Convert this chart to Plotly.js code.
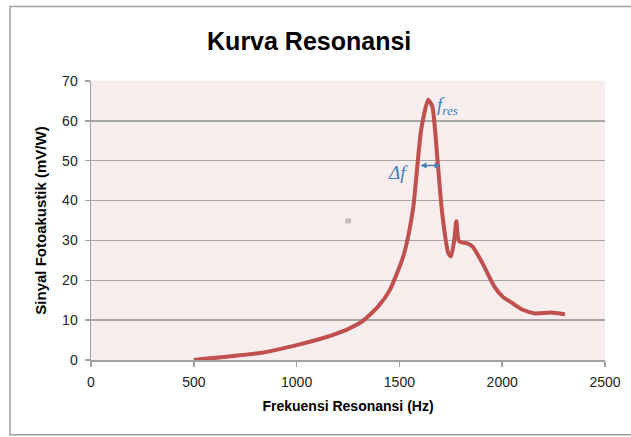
<!DOCTYPE html>
<html>
<head>
<meta charset="utf-8">
<script src="https://cdn.plot.ly/plotly-3.0.1.min.js"></script>
<style>html,body{margin:0;padding:0;background:#fff;}#chart{width:631px;height:437px;}</style>
</head>
<body>
<div id="chart"></div>
<script>
var freq = [500, 829, 1005, 1141, 1239, 1317, 1396, 1454, 1513, 1532, 1568, 1581, 1606, 1640, 1660, 1685, 1708, 1738, 1751, 1767, 1777, 1790, 1826, 1855, 1904, 1962, 2002, 2051, 2100, 2158, 2236, 2305];
var signal = [0, 1.8, 3.8, 5.7, 7.5, 9.6, 13.4, 17.6, 25.1, 28.5, 38.5, 45.2, 57.8, 65.3, 63.6, 50.3, 36.9, 26.8, 26.0, 30.2, 34.8, 29.8, 29.3, 28.5, 24.3, 18.4, 15.9, 14.2, 12.6, 11.7, 11.9, 11.5];
var xTicks = [0, 500, 1000, 1500, 2000, 2500];
var yTicks = [0, 10, 20, 30, 40, 50, 60, 70];

var font = "Liberation Sans, Arial, sans-serif";
var trace = {
  x: freq, y: signal, type: 'scatter', mode: 'lines',
  line: {color: '#C0504D', width: 4, shape: 'spline', smoothing: 0.6},
  hoverinfo: 'none'
};
var layout = {
  width: 631, height: 437,
  margin: {l: 91, r: 26, t: 81, b: 77},
  paper_bgcolor: '#ffffff',
  plot_bgcolor: '#F8EDED',
  showlegend: false,
  title: {text: '<b>Kurva Resonansi</b>', font: {family: font, size: 25, color: '#000'}, x: 0.49, xanchor: 'center', y: 0.905, yanchor: 'middle'},
  xaxis: {
    range: [0, 2500], tickvals: xTicks, ticktext: xTicks.map(String),
    showgrid: false, zeroline: false, showline: true, linecolor: '#A0A0A0', linewidth: 1.5,
    ticks: 'outside', ticklen: 5, tickcolor: '#A0A0A0', tickwidth: 1.5, ticklabelstandoff: 4,
    tickfont: {family: font, size: 14, color: '#222'},
    title: {text: '<b>Frekuensi Resonansi (Hz)</b>', font: {family: font, size: 14, color: '#000'}, standoff: 12}
  },
  yaxis: {
    range: [0, 70], tickvals: yTicks, ticktext: yTicks.map(String),
    showgrid: true, gridcolor: '#A6A6A6', gridwidth: 1.5, zeroline: false,
    showline: true, linecolor: '#A0A0A0', linewidth: 1.5,
    ticks: 'outside', ticklen: 5, tickcolor: '#A0A0A0', tickwidth: 1.5, ticklabelstandoff: 4,
    tickfont: {family: font, size: 14, color: '#222'},
    title: {text: '<b>Sinyal Fotoakustik (mV/W)</b>', font: {family: font, size: 15, color: '#000'}, standoff: 12}
  },
  shapes: [
    {type: 'rect', xref: 'paper', yref: 'paper', x0: -0.1575, x1: 1.2, y0: -0.268, y1: 1.267,
     line: {color: '#A0A0A0', width: 1.5}, fillcolor: 'rgba(0,0,0,0)', layer: 'below'},
    {type: 'rect', xref: 'x', yref: 'y', x0: 1237, x1: 1265, y0: 34.3, y1: 35.5,
     line: {width: 0}, fillcolor: '#C4BCBC'}
  ],
  annotations: [
    {x: 1700, y: 48.8, ax: 1596, ay: 48.8, xref: 'x', yref: 'y', axref: 'x', ayref: 'y',
     text: '', showarrow: true, arrowhead: 2, startarrowhead: 2, arrowside: 'end+start',
     arrowsize: 0.8, arrowwidth: 1.5, arrowcolor: '#4A7EBB'},
    {x: 1495, y: 47.0, xref: 'x', yref: 'y', showarrow: false,
     text: '<i>Δf</i>', font: {family: 'Liberation Serif, Times New Roman, serif', size: 19, color: '#3B7FC4'}},
    {x: 1735, y: 63.8, xref: 'x', yref: 'y', showarrow: false,
     text: '<i>f<sub>res</sub></i>', font: {family: 'Liberation Serif, Times New Roman, serif', size: 19, color: '#3B7FC4'}}
  ]
};
Plotly.newPlot('chart', [trace], layout, {displayModeBar: false, staticPlot: true});
</script>
</body>
</html>
